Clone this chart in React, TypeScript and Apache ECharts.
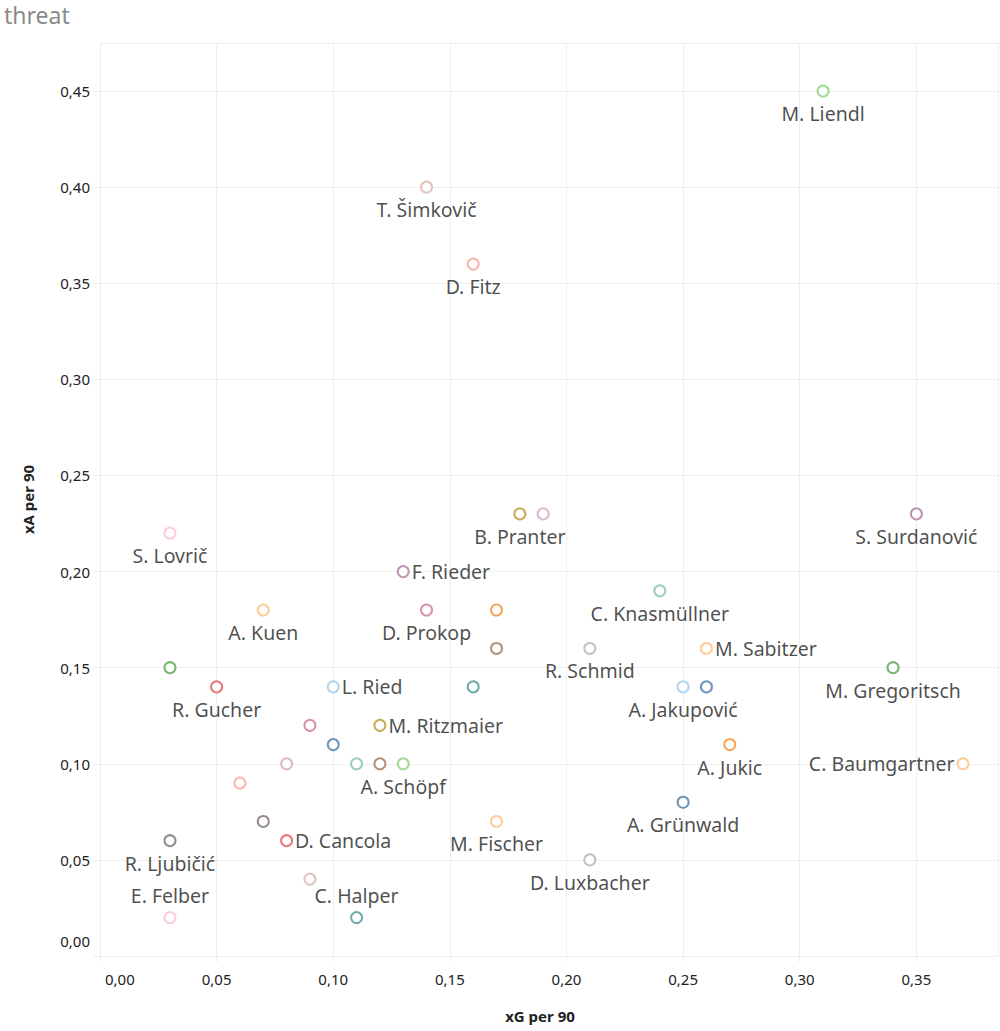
import React, { useEffect, useRef } from "react";
import * as echarts from "echarts";

const players = [
  "M. Liendl", "T. Šimkovič", "D. Fitz", "B. Pranter", "", "S. Surdanović", "S. Lovrič", "F. Rieder",
  "C. Knasmüllner", "A. Kuen", "D. Prokop", "", "", "R. Schmid", "M. Sabitzer", "", "M. Gregoritsch",
  "R. Gucher", "L. Ried", "", "A. Jakupović", "", "", "M. Ritzmaier", "", "A. Jukic", "", "", "",
  "A. Schöpf", "C. Baumgartner", "", "A. Grünwald", "", "M. Fischer", "D. Cancola", "R. Ljubičić",
  "D. Luxbacher", "", "E. Felber", "C. Halper",
];
const xgPer90 = [
  0.31, 0.14, 0.16, 0.18, 0.19, 0.35, 0.03, 0.13,
  0.24, 0.07, 0.14, 0.17, 0.17, 0.21, 0.26, 0.03, 0.34,
  0.05, 0.10, 0.16, 0.25, 0.26, 0.09, 0.12, 0.10, 0.27, 0.08, 0.11, 0.12,
  0.13, 0.37, 0.06, 0.25, 0.07, 0.17, 0.08, 0.03,
  0.21, 0.09, 0.03, 0.11,
];
const xaPer90 = [
  0.45, 0.40, 0.36, 0.23, 0.23, 0.23, 0.22, 0.20,
  0.19, 0.18, 0.18, 0.18, 0.16, 0.16, 0.16, 0.15, 0.15,
  0.14, 0.14, 0.14, 0.14, 0.14, 0.12, 0.12, 0.11, 0.11, 0.10, 0.10, 0.10,
  0.10, 0.10, 0.09, 0.08, 0.07, 0.07, 0.06, 0.06,
  0.05, 0.04, 0.02, 0.02,
];
const pointColors = [
  "#8CD17D", "#D7B5A6", "#FF9D9A", "#B6992D", "#D4A6C8", "#B07AA1", "#FABFD2", "#B07AA1",
  "#86BCB6", "#FFBE7D", "#D37295", "#F28E2B", "#9D7660", "#BAB0AC", "#FFBE7D", "#59A14F", "#59A14F",
  "#E15759", "#A0CBE8", "#499894", "#A0CBE8", "#4E79A7", "#D37295", "#B6992D", "#4E79A7", "#F28E2B",
  "#D4A6C8", "#86BCB6", "#9D7660",
  "#8CD17D", "#FFBE7D", "#FF9D9A", "#4E79A7", "#79706E", "#FFBE7D", "#E15759", "#79706E",
  "#BAB0AC", "#D7B5A6", "#FABFD2", "#499894",
];
const xTicks = [0, 0.05, 0.1, 0.15, 0.2, 0.25, 0.3, 0.35];
const yTicks = [0, 0.05, 0.1, 0.15, 0.2, 0.25, 0.3, 0.35, 0.4, 0.45];

// label placement (style, not data)
const rightLabels = new Set(["F. Rieder", "M. Sabitzer", "L. Ried", "M. Ritzmaier", "D. Cancola"]);
const leftLabels = new Set(["C. Baumgartner"]);
const topLabels = new Set(["E. Felber", "C. Halper"]);

const fmt = (v: number) => v.toFixed(2).replace(".", ",");

export default function App() {
  const ref = useRef<HTMLDivElement>(null);
  useEffect(() => {
    if (!ref.current) return;
    const chart = echarts.init(ref.current, undefined, { renderer: "svg" });
    const font = "'Noto Sans', 'Open Sans', sans-serif";
    const data = players.map((name, i) => {
      let position: any = "bottom";
      let distance = 6;
      if (rightLabels.has(name)) { position = "right"; distance = 2; }
      else if (leftLabels.has(name)) { position = "left"; distance = 2; }
      else if (topLabels.has(name)) { position = "top"; distance = 6; }
      return {
        name,
        value: [xgPer90[i], xaPer90[i]],
        itemStyle: { color: pointColors[i] },
        label: { show: name !== "", position, distance },
      };
    });
    chart.setOption({
      animation: false,
      textStyle: { fontFamily: font },
      title: {
        text: "threat",
        left: 4,
        top: 2,
        padding: 0,
        textStyle: { color: "#8a8a8a", fontSize: 23, fontWeight: "normal", fontFamily: font, lineHeight: 26 },
      },
      grid: { left: 100, right: 2, top: 43, bottom: 75, containLabel: false },
      xAxis: {
        type: "value",
        min: 0,
        max: 0.385,
        interval: 0.05,
        name: "xG per 90",
        nameLocation: "middle",
        nameGap: 52,
        nameTextStyle: { fontSize: 15, fontWeight: "bold", color: "#222", fontFamily: font, padding: [0, 18, 0, 0] },
        axisLine: { show: true, lineStyle: { color: "#eeeeee" } },
        axisTick: { show: true, length: 6, lineStyle: { color: "#eeeeee" } },
        splitLine: { show: true, lineStyle: { color: "#efefef" } },
        axisLabel: {
          color: "#222",
          fontSize: 15,
          margin: 15,
          showMaxLabel: false,
          alignMinLabel: "left",
          formatter: (v: number) =>
            xTicks.some((t) => Math.abs(t - v) < 1e-9) ? (v === 0 ? "{z|" + fmt(v) + "}" : fmt(v)) : "",
          rich: { z: { fontSize: 15, color: "#222", padding: [0, 0, 0, 5] } },
        },
      },
      yAxis: {
        type: "value",
        min: 0,
        max: 0.475,
        interval: 0.05,
        name: "xA per 90",
        nameLocation: "middle",
        nameGap: 65,
        nameRotate: 90,
        nameTextStyle: { fontSize: 15, fontWeight: "bold", color: "#222", fontFamily: font },
        axisLine: { show: true, lineStyle: { color: "#eeeeee" } },
        axisTick: { show: true, length: 7, lineStyle: { color: "#eeeeee" } },
        splitLine: { show: true, lineStyle: { color: "#efefef" } },
        axisLabel: {
          color: "#222",
          fontSize: 15,
          margin: 10,
          showMaxLabel: false,
          verticalAlignMinLabel: "bottom",
          formatter: (v: number) =>
            yTicks.some((t) => Math.abs(t - v) < 1e-9) ? (v === 0 ? "{z|" + fmt(v) + "}" : fmt(v)) : "",
          rich: { z: { fontSize: 15, color: "#222", padding: [0, 0, 8, 0] } },
        },
      },
      series: [
        {
          type: "scatter",
          symbol: "emptyCircle",
          symbolSize: 11,
          itemStyle: { borderWidth: 2.2 },
          label: {
            formatter: "{b}",
            color: "#1e1e1e",
            fontSize: 19.5,
            fontFamily: font,
          },
          labelLayout: { hideOverlap: false },
          data,
        },
      ],
    });
    return () => chart.dispose();
  }, []);
  return (
    <div
      ref={ref}
      style={{ position: "fixed", left: 0, top: 0, width: 1000, height: 1031, background: "#fff" }}
    />
  );
}
